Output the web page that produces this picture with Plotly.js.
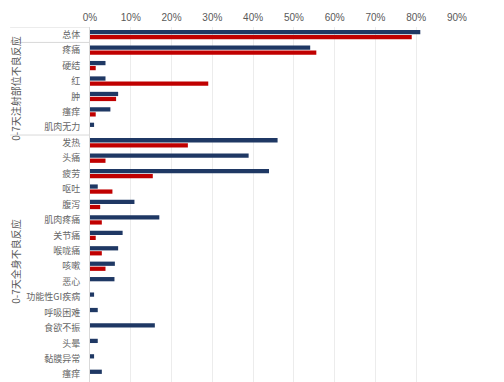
<!DOCTYPE html>
<html>
<head>
<meta charset="utf-8">
<script src="https://cdn.plot.ly/plotly-3.0.1.min.js"></script>
<style>html,body{margin:0;padding:0;background:#fff;}#chart{width:504px;height:382px;}</style>
</head>
<body>
<div id="chart"></div>
<script>
const categories = ["总体","疼痛","硬结","红","肿","瘙痒","肌肉无力","发热","头痛","疲劳","呕吐","腹泻","肌肉疼痛","关节痛","喉咙痛","咳嗽","恶心","功能性GI疾病","呼吸困难","食欲不振","头晕","黏膜异常","瘙痒"];
const seriesA = [81.0,54.0,3.8,3.8,6.9,5.0,1.0,46.0,38.9,43.9,1.9,10.9,17.0,8.0,6.9,6.1,6.0,1.0,1.9,15.9,1.9,1.0,2.9];
const seriesB = [78.9,55.5,1.4,29.0,6.4,1.4,null,24.0,3.8,15.4,5.5,2.5,2.9,1.4,2.9,3.8,null,null,null,null,null,null,null];
const groupLabels = ["0-7天注射部位不良反应","0-7天全身不良反应"];
const groupSpans = [[1,6],[7,22]];
const xTicks = [0,10,20,30,40,50,60,70,80,90];

const idx = categories.map((_, i) => i);
const cjk = '"Noto Sans CJK SC", "Noto Sans", sans-serif';

const traces = [
  {type:'bar', orientation:'h', x: seriesA, y: idx, marker:{color:'#1F3864'}, hoverinfo:'x+y', name:'A'},
  {type:'bar', orientation:'h', x: seriesB, y: idx, marker:{color:'#C00000'}, hoverinfo:'x+y', name:'B'}
];

const L = 90, W = 367.5;
const px = p => (p - L) / W;

const shapes = [-0.5, 0.5, 6.5].map(v => ({
  type:'line', xref:'paper', yref:'y', x0: px(10), x1: 0, y0: v, y1: v,
  line:{color:'#d9d9d9', width:1}
}));

const annotations = groupLabels.map((t, i) => ({
  text: t, xref:'paper', yref:'y', x: px(16), y: (groupSpans[i][0] + groupSpans[i][1]) / 2 + (i === 1 ? 0.2 : 0),
  textangle: -90, showarrow:false, xanchor:'center', yanchor:'middle',
  font:{family:cjk, size:10, color:'#595959'}
}));

const layout = {
  width:504, height:382,
  margin:{l:L, r:504 - L - W, t:27, b:0, pad:0},
  paper_bgcolor:'#fff', plot_bgcolor:'#fff',
  showlegend:false,
  barmode:'group', bargap:0.35, bargroupgap:0.15,
  xaxis:{
    side:'top', range:[0,90], tickvals:xTicks, ticktext:xTicks.map(v => v + '%'),
    showgrid:true, gridcolor:'#ececec', gridwidth:1, zeroline:false, showline:false,
    ticks:'', ticklabelstandoff:3,
    tickfont:{family:'"Liberation Sans Narrow", "Liberation Sans", sans-serif', size:10, color:'#595959'},
    fixedrange:true
  },
  yaxis:{
    range:[22.5, -0.5], tickvals:idx, ticktext:categories,
    showgrid:false, zeroline:false, showline:true, linecolor:'#d9d9d9', linewidth:1,
    ticks:'', ticklabelstandoff:7,
    tickfont:{family:cjk, size:9, color:'#666666'},
    fixedrange:true
  },
  shapes: shapes,
  annotations: annotations
};

Plotly.newPlot('chart', traces, layout, {displayModeBar:false, staticPlot:true});
</script>
</body>
</html>
